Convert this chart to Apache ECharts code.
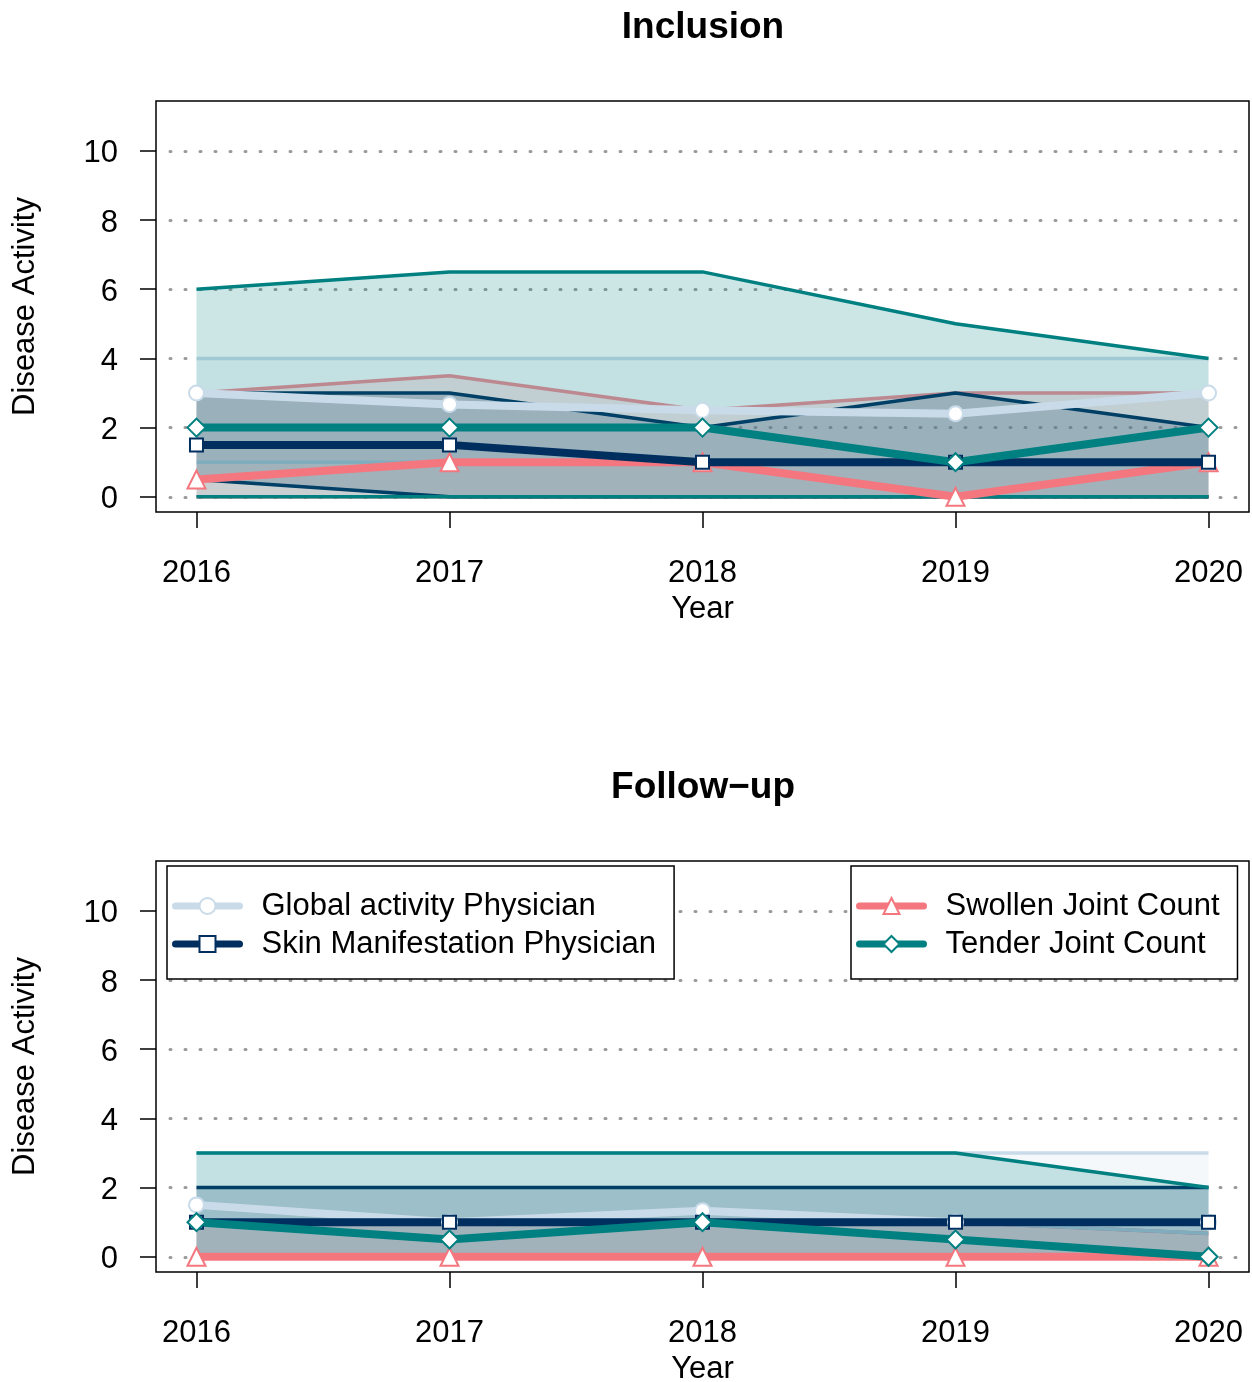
<!DOCTYPE html>
<html>
<head>
<meta charset="utf-8">
<title>Disease Activity</title>
<script src="https://cdn.jsdelivr.net/npm/echarts@6/dist/echarts.min.js"></script>
<style>
  html, body { margin: 0; padding: 0; background: #fff; }
  #chart { width: 1252px; height: 1382px; }
</style>
</head>
<body>
<div id="chart"></div>
<script>
// ---- data ----
const years = [2016, 2017, 2018, 2019, 2020];
const yTicks = [0, 2, 4, 6, 8, 10];

const seriesNames = ['Global activity Physician', 'Skin Manifestation Physician', 'Swollen Joint Count', 'Tender Joint Count'];

// Inclusion: medians and ranges
const inclGlobalMedian = [3, 2.67, 2.5, 2.4, 3];
const inclGlobalLow    = [1, 1, 1, 1, 1];
const inclGlobalHigh   = [4, 4, 4, 4, 4];
const inclSkinMedian   = [1.5, 1.5, 1, 1, 1];
const inclSkinLow      = [0.5, 0, 0, 0, 0];
const inclSkinHigh     = [3, 3, 2, 3, 2];
const inclSwollenMedian = [0.5, 1, 1, 0, 1];
const inclSwollenLow    = [0, 0, 0, 0, 0];
const inclSwollenHigh   = [3, 3.5, 2.5, 3, 3];
const inclTenderMedian = [2, 2, 2, 1, 2];
const inclTenderLow    = [0, 0, 0, 0, 0];
const inclTenderHigh   = [6, 6.5, 6.5, 5, 4];

// Follow-up: medians and ranges
const fupGlobalMedian = [1.5, 1, 1.33, 1, 1];
const fupGlobalLow    = [1, 1, 1, 1, 0.67];
const fupGlobalHigh   = [3, 3, 3, 3, 3];
const fupSkinMedian   = [1, 1, 1, 1, 1];
const fupSkinLow      = [0, 0, 0, 0, 0];
const fupSkinHigh     = [2, 2, 2, 2, 2];
const fupSwollenMedian = [0, 0, 0, 0, 0];
const fupSwollenLow    = [0, 0, 0, 0, 0];
const fupSwollenHigh   = [1, 1, 1, 1, 0.67];
const fupTenderMedian = [1, 0.5, 1, 0.5, 0];
const fupTenderLow    = [0, 0, 0, 0, 0];
const fupTenderHigh   = [3, 3, 3, 3, 2];

// ---- styling ----
const FONT = 'Liberation Sans, Arial, Helvetica, sans-serif';
const colors = {
  global: '#c9dbe9',
  skin: '#002f5f',
  swollen: '#f4777f',
  tender: '#008080'
};
const markers = {
  global: { symbol: 'circle', size: 15 },
  skin: { symbol: 'rect', size: 13 },
  swollen: { symbol: 'triangle', size: 18 },
  tender: { symbol: 'diamond', size: 18 }
};

function withAlpha(hex, a) {
  const n = parseInt(hex.slice(1), 16);
  return 'rgba(' + ((n >> 16) & 255) + ',' + ((n >> 8) & 255) + ',' + (n & 255) + ',' + a + ')';
}

// Shaded range between low and high, outlined along both edges
function rangeSeries(name, low, high, color, idx) {
  return {
    type: 'custom',
    name: name + ' range',
    xAxisIndex: idx, yAxisIndex: idx,
    silent: true,
    data: years.map((y, i) => [y, low[i], high[i]]),
    encode: { x: 0, y: [1, 2] },
    renderItem: function (params, api) {
      if (params.dataIndex !== 0) return null;
      const up = years.map((y, i) => api.coord([y, high[i]]));
      const lo = years.map((y, i) => api.coord([y, low[i]]));
      const poly = up.concat(lo.slice().reverse());
      return {
        type: 'group',
        children: [
          { type: 'polygon', shape: { points: poly }, style: { fill: withAlpha(color, 0.2), stroke: null } },
          { type: 'polyline', shape: { points: up }, style: { fill: null, stroke: color, lineWidth: 3.5, lineJoin: 'round' } },
          { type: 'polyline', shape: { points: lo }, style: { fill: null, stroke: color, lineWidth: 3.5, lineJoin: 'round' } }
        ]
      };
    }
  };
}

function medianSeries(name, values, key, idx) {
  return {
    type: 'line',
    name: name,
    xAxisIndex: idx, yAxisIndex: idx,
    data: years.map((y, i) => [y, values[i]]),
    symbol: markers[key].symbol,
    symbolSize: markers[key].size,
    showAllSymbol: true,
    lineStyle: { color: colors[key], width: 8, cap: 'round', join: 'round' },
    itemStyle: { color: '#ffffff', borderColor: colors[key], borderWidth: 2 },
    emphasis: { disabled: true }
  };
}

function panelSeries(idx, d) {
  return [
    rangeSeries(seriesNames[2], d.swollenLow, d.swollenHigh, colors.swollen, idx),
    rangeSeries(seriesNames[0], d.globalLow, d.globalHigh, colors.global, idx),
    rangeSeries(seriesNames[1], d.skinLow, d.skinHigh, colors.skin, idx),
    rangeSeries(seriesNames[3], d.tenderLow, d.tenderHigh, colors.tender, idx),
    medianSeries(seriesNames[0], d.globalMedian, 'global', idx),
    medianSeries(seriesNames[2], d.swollenMedian, 'swollen', idx),
    medianSeries(seriesNames[1], d.skinMedian, 'skin', idx),
    medianSeries(seriesNames[3], d.tenderMedian, 'tender', idx)
  ];
}

function xAxisFor(idx) {
  return {
    type: 'value', gridIndex: idx,
    min: 2015.84, max: 2020.16,
    axisLine: { show: false, onZero: false },
    axisTick: { show: true, length: 16, inside: false, customValues: years, lineStyle: { color: '#000', width: 1.5 } },
    axisLabel: { customValues: years, formatter: v => String(v), margin: 46, fontSize: 31, color: '#000', fontFamily: FONT },
    splitLine: { show: false },
    name: 'Year', nameLocation: 'middle', nameGap: 82,
    nameTextStyle: { fontSize: 31, color: '#000', fontFamily: FONT }
  };
}

function yAxisFor(idx) {
  return {
    type: 'value', gridIndex: idx,
    min: -0.44, max: 11.44,
    axisLine: { show: false, onZero: false },
    axisTick: { show: true, length: 16, inside: false, customValues: yTicks, lineStyle: { color: '#000', width: 1.5 } },
    axisLabel: {
      customValues: yTicks,
      formatter: v => '{t|' + v + '}',
      margin: 38,
      rich: { t: { fontSize: 31, color: '#000', fontFamily: FONT, lineHeight: 31, padding: [6, 0, 0, 0] } }
    },
    splitLine: { show: true, lineStyle: { color: '#9a9a9a', width: 3, type: [1, 14], cap: 'round', dashOffset: 1 } },
    name: 'Disease Activity', nameLocation: 'middle', nameGap: 115, nameRotate: 90,
    nameTextStyle: { fontSize: 31, color: '#000', fontFamily: FONT }
  };
}

function legendFor(names, left) {
  return {
    data: names,
    orient: 'vertical',
    left: left, top: 866,
    padding: [23, 18, 18, 5],
    itemGap: 4,
    itemWidth: 64, itemHeight: 20,
    backgroundColor: '#fff',
    borderColor: '#000', borderWidth: 1.5, borderRadius: 0,
    selectedMode: false,
    lineStyle: { width: 7, cap: 'round' },
    itemStyle: { borderWidth: 2 },
    textStyle: { fontSize: 31, color: '#000', fontFamily: FONT, lineHeight: 34, padding: [0, 0, 0, 17] }
  };
}

const chart = echarts.init(document.getElementById('chart'), null, { renderer: 'canvas' });
chart.setOption({
  animation: false,
  backgroundColor: '#fff',
  textStyle: { fontFamily: FONT },
  grid: [
    { left: 156, top: 101, width: 1093, height: 411, show: true, borderColor: '#000', borderWidth: 1.5, backgroundColor: 'transparent', outerBoundsMode: 'none' },
    { left: 156, top: 861, width: 1093, height: 411, show: true, borderColor: '#000', borderWidth: 1.5, backgroundColor: 'transparent', outerBoundsMode: 'none' }
  ],
  xAxis: [xAxisFor(0), xAxisFor(1)],
  yAxis: [yAxisFor(0), yAxisFor(1)],
  legend: [
    legendFor([seriesNames[0], seriesNames[1]], 167),
    legendFor([seriesNames[2], seriesNames[3]], 851)
  ],
  graphic: [
    { type: 'text', x: 703, y: 28, style: { text: 'Inclusion', font: 'bold 37px ' + FONT, fill: '#000', align: 'center', verticalAlign: 'middle' } },
    { type: 'text', x: 703, y: 788, style: { text: 'Follow\u2212up', font: 'bold 37px ' + FONT, fill: '#000', align: 'center', verticalAlign: 'middle' } }
  ],
  series: panelSeries(0, {
    globalMedian: inclGlobalMedian, globalLow: inclGlobalLow, globalHigh: inclGlobalHigh,
    skinMedian: inclSkinMedian, skinLow: inclSkinLow, skinHigh: inclSkinHigh,
    swollenMedian: inclSwollenMedian, swollenLow: inclSwollenLow, swollenHigh: inclSwollenHigh,
    tenderMedian: inclTenderMedian, tenderLow: inclTenderLow, tenderHigh: inclTenderHigh
  }).concat(panelSeries(1, {
    globalMedian: fupGlobalMedian, globalLow: fupGlobalLow, globalHigh: fupGlobalHigh,
    skinMedian: fupSkinMedian, skinLow: fupSkinLow, skinHigh: fupSkinHigh,
    swollenMedian: fupSwollenMedian, swollenLow: fupSwollenLow, swollenHigh: fupSwollenHigh,
    tenderMedian: fupTenderMedian, tenderLow: fupTenderLow, tenderHigh: fupTenderHigh
  }))
});
</script>
</body>
</html>
